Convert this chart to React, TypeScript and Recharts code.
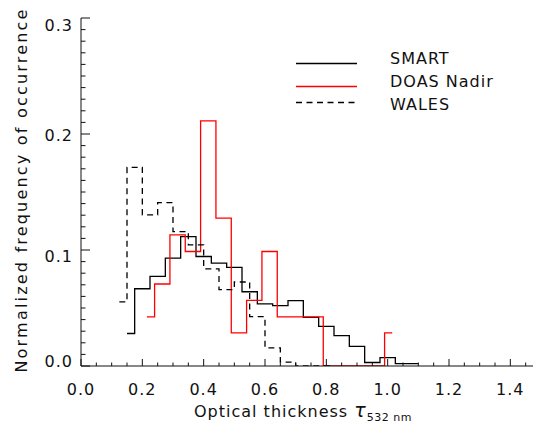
import { LineChart, Line, XAxis, YAxis } from 'recharts';

// histogram bin centres (optical thickness) and normalized frequencies
const SMART_TAU = [0.15, 0.2, 0.25, 0.3, 0.35, 0.4, 0.45, 0.5, 0.55, 0.6, 0.65, 0.7, 0.75, 0.8, 0.85, 0.9, 0.95, 1.0, 1.05, 1.1];
const SMART_FREQ = [0.028, 0.0666, 0.0772, 0.093, 0.1116, 0.0944, 0.0887, 0.085, 0.064, 0.0535, 0.052, 0.0563, 0.042, 0.0342, 0.0262, 0.017, 0.003, 0.0073, 0.002, 0.002];

const DOAS_TAU = [0.215, 0.265, 0.315, 0.365, 0.415, 0.465, 0.515, 0.565, 0.615, 0.665, 0.715, 0.765, 0.815, 0.865, 0.915, 0.965, 1.015];
const DOAS_FREQ = [0.0423, 0.0707, 0.113, 0.0987, 0.2113, 0.1274, 0.0285, 0.0566, 0.0987, 0.0423, 0.0423, 0.0423, 0, 0, 0, 0, 0.0285];

const WALES_TAU = [0.125, 0.175, 0.225, 0.275, 0.325, 0.375, 0.425, 0.475, 0.525, 0.575, 0.625, 0.675, 0.725, 0.775, 0.825];
const WALES_FREQ = [0.0552, 0.1713, 0.1303, 0.1408, 0.1159, 0.1045, 0.0838, 0.0658, 0.0724, 0.0426, 0.0156, 0.0033, 0, 0, 0];

const X_TICKS = [0, 0.05, 0.1, 0.15, 0.2, 0.25, 0.3, 0.35, 0.4, 0.45, 0.5, 0.55, 0.6, 0.65, 0.7, 0.75, 0.8, 0.85, 0.9, 0.95, 1.0, 1.05, 1.1, 1.15, 1.2, 1.25, 1.3, 1.35, 1.4, 1.45, 1.5];
const X_LABELS = [0, 0.2, 0.4, 0.6, 0.8, 1.0, 1.2, 1.4];
const Y_TICKS = [0, 0.01, 0.02, 0.03, 0.04, 0.05, 0.06, 0.07, 0.08, 0.09, 0.1, 0.11, 0.12, 0.13, 0.14, 0.15, 0.16, 0.17, 0.18, 0.19, 0.2, 0.21, 0.22, 0.23, 0.24, 0.25, 0.26, 0.27, 0.28, 0.29, 0.3];
const Y_LABELS = [0, 0.1, 0.2, 0.3];

const SERIES_NAMES = ['SMART', 'DOAS Nadir', 'WALES'];

const FONT = "'DejaVu Sans', sans-serif";
const INK = '#111';

const toPoints = (xs: number[], ys: number[]) => xs.map((x, i) => ({ x, y: ys[i] }));

const smartData = toPoints(SMART_TAU, SMART_FREQ);
const doasData = toPoints(DOAS_TAU, DOAS_FREQ);
const walesData = toPoints(WALES_TAU, WALES_FREQ);

const isMajor = (v: number, labels: number[]) => labels.some((l) => Math.abs(l - v) < 1e-6);

// small vertical nudges so the y labels sit where the original puts them
const Y_LABEL_NUDGE: Record<string, number> = { '0.0': -5, '0.1': 6, '0.2': 1, '0.3': 7 };

function BottomTick(props: any) {
  const { x, y, payload } = props;
  const major = isMajor(payload.value, X_LABELS);
  return (
    <g>
      <line x1={x} y1={y} x2={x} y2={y - (major ? 7 : 3.5)} stroke={INK} strokeWidth={1} />
      {major && (
        <text x={x} y={y + 29} textAnchor="middle" fontFamily={FONT} fontSize={16} letterSpacing={1} fill={INK}>
          {payload.value.toFixed(1)}
        </text>
      )}
    </g>
  );
}

function TopTick(props: any) {
  const { x, y, payload } = props;
  const major = isMajor(payload.value, X_LABELS);
  return <line x1={x} y1={y} x2={x} y2={y + (major ? 6 : 3)} stroke={INK} strokeWidth={1} />;
}

function LeftTick(props: any) {
  const { x, y, payload } = props;
  const major = isMajor(payload.value, Y_LABELS);
  const label = payload.value.toFixed(1);
  return (
    <g>
      <line x1={x} y1={y} x2={x + (major ? 9 : 4.5)} y2={y} stroke={INK} strokeWidth={1} />
      {major && (
        <text
          x={x - 8}
          y={y + 6 + (Y_LABEL_NUDGE[label] ?? 0)}
          textAnchor="end"
          fontFamily={FONT}
          fontSize={16}
          letterSpacing={1}
          fill={INK}
        >
          {label}
        </text>
      )}
    </g>
  );
}

export default function App() {
  return (
    <div style={{ position: 'absolute', left: 0, top: 0, width: 533, height: 425, overflow: 'hidden', background: '#fff' }}>
      <LineChart width={545} height={425} margin={{ top: 18, right: 4, bottom: 0, left: 0 }}>
        <XAxis
          type="number"
          dataKey="x"
          domain={[0, 1.5]}
          ticks={X_TICKS}
          interval={0}
          tickSize={0}
          tickMargin={0}
          tickLine={false}
          tick={BottomTick}
          height={59}
          axisLine={{ stroke: INK, strokeWidth: 1 }}
          allowDataOverflow
        />
        <XAxis
          xAxisId="top"
          orientation="top"
          type="number"
          dataKey="x"
          domain={[0, 1.5]}
          ticks={X_TICKS}
          interval={0}
          tickSize={0}
          tickMargin={0}
          tickLine={false}
          tick={TopTick}
          height={0}
          axisLine={{ stroke: INK, strokeWidth: 1 }}
          allowDataOverflow
        />
        <YAxis
          type="number"
          domain={[0, 0.3]}
          ticks={Y_TICKS}
          interval={0}
          tickSize={0}
          tickMargin={0}
          tickLine={false}
          tick={LeftTick}
          width={81}
          axisLine={{ stroke: INK, strokeWidth: 1 }}
          allowDataOverflow
        />
        <Line data={smartData} dataKey="y" type="step" stroke="#000" strokeWidth={1.3} dot={false} isAnimationActive={false} name={SERIES_NAMES[0]} />
        <Line data={doasData} dataKey="y" type="step" stroke="#ff0000" strokeWidth={1.3} dot={false} isAnimationActive={false} name={SERIES_NAMES[1]} />
        <Line data={walesData} dataKey="y" type="step" stroke="#000" strokeWidth={1.3} strokeDasharray="6 4.5" dot={false} isAnimationActive={false} name={SERIES_NAMES[2]} />
      </LineChart>

      <svg width={533} height={425} style={{ position: 'absolute', left: 0, top: 0, pointerEvents: 'none' }}>
        {/* legend */}
        <line x1={296} y1={63.5} x2={357} y2={63.5} stroke="#000" strokeWidth={1.3} />
        <text x={390} y={64} fontFamily={FONT} fontSize={16} letterSpacing={1} fill={INK}>{SERIES_NAMES[0]}</text>
        <line x1={296} y1={86.5} x2={357} y2={86.5} stroke="#ff0000" strokeWidth={1.3} />
        <text x={390} y={87} fontFamily={FONT} fontSize={16} letterSpacing={1} fill={INK}>{SERIES_NAMES[1]}</text>
        <line x1={296} y1={102.5} x2={357} y2={102.5} stroke="#000" strokeWidth={1.3} strokeDasharray="6 4.5" />
        <text x={390} y={110} fontFamily={FONT} fontSize={16} letterSpacing={1} fill={INK}>{SERIES_NAMES[2]}</text>

        {/* axis titles */}
        <text transform="translate(27,190) rotate(-90)" textAnchor="middle" fontFamily={FONT} fontSize={16} letterSpacing={2.2} fill={INK}>
          Normalized frequency of occurrence
        </text>
        <text x={194} y={417} fontFamily={FONT} fontSize={16} letterSpacing={1} fill={INK}>
          Optical thickness{' '}
          <tspan fontStyle="italic" fontSize={19}>τ</tspan>
          <tspan fontSize={11} dy={4} letterSpacing={0.5}>532 nm</tspan>
        </text>
      </svg>
    </div>
  );
}
